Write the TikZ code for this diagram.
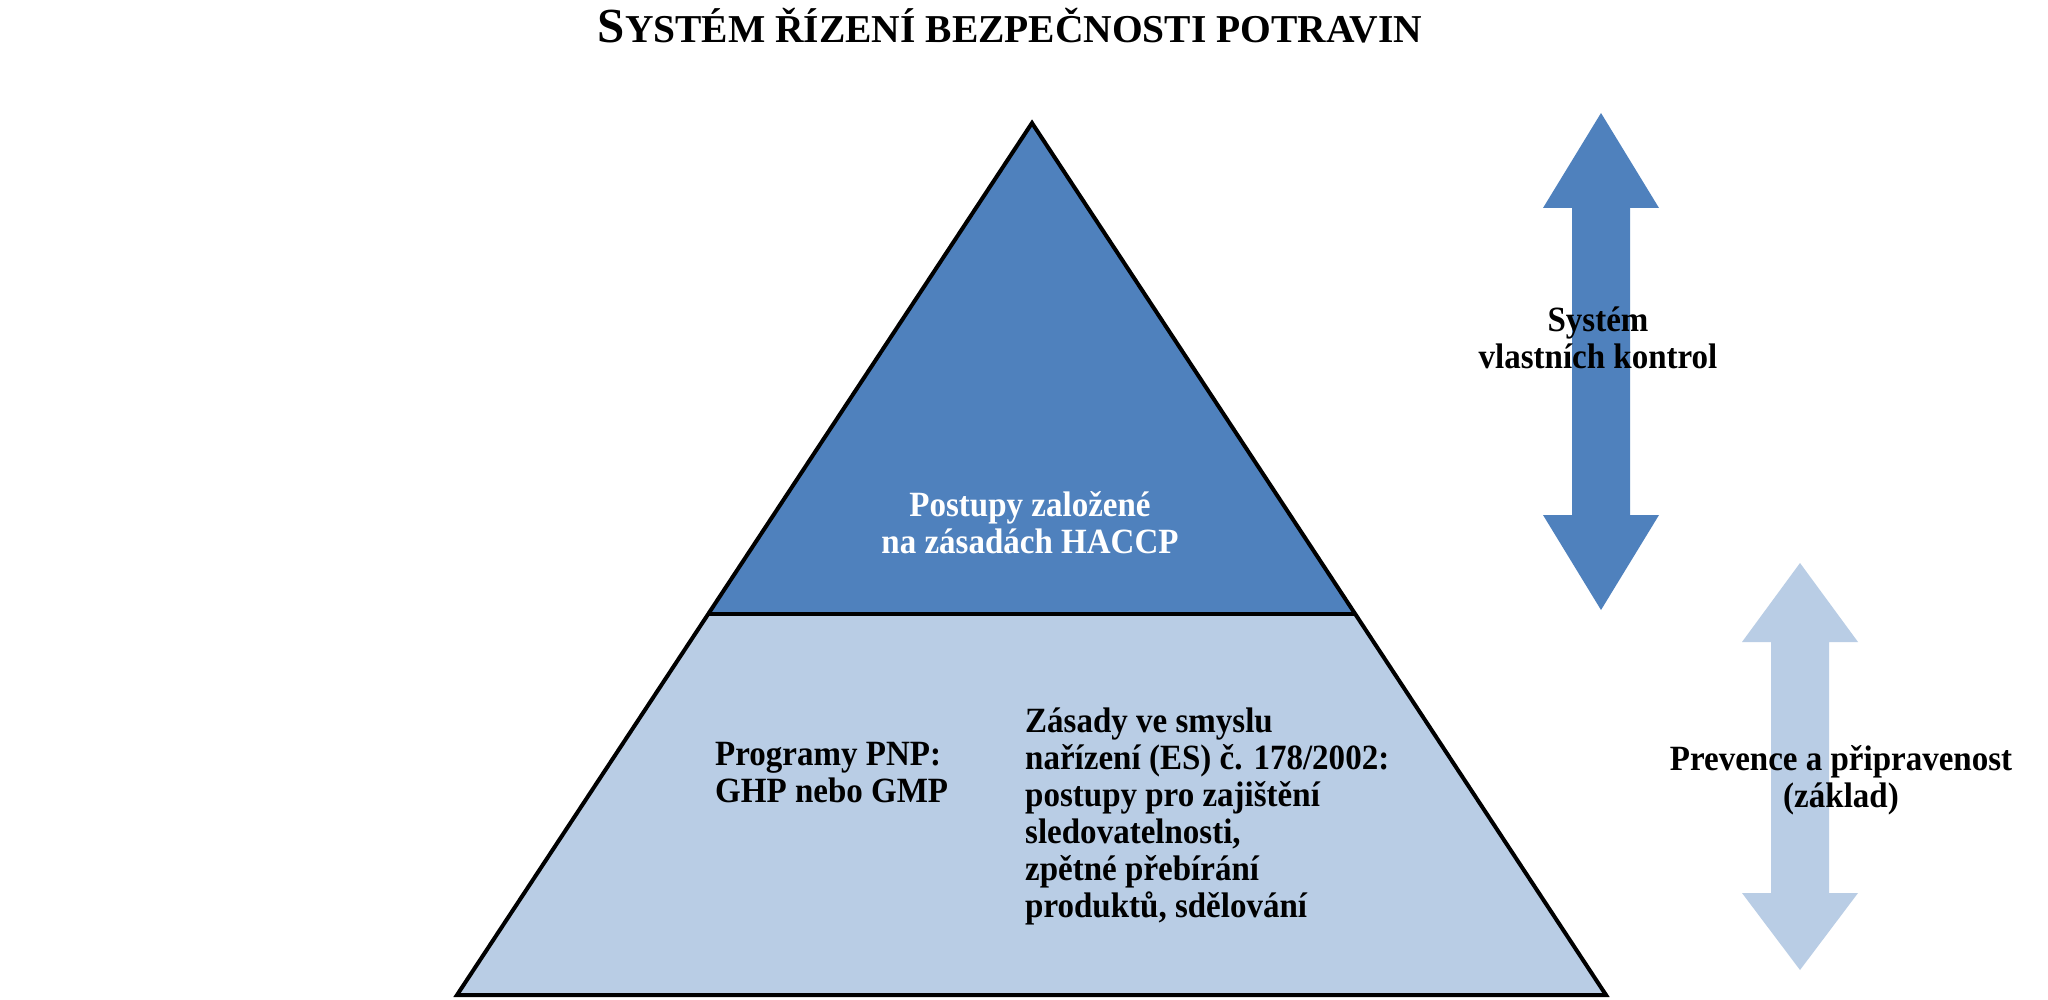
\documentclass[tikz,border=0pt]{standalone}
\usepackage{fontspec}
\setmainfont{Liberation Serif}
\newfontfamily\lblfont{Liberation Serif}[FakeStretch=0.93]
\definecolor{darkblue}{HTML}{4F81BD}
\definecolor{lightblue}{HTML}{B9CDE5}
\begin{document}
\begin{tikzpicture}[x=1pt,y=-1pt,
  lbl/.style={font=\lblfont\bfseries\fontsize{35.5}{37}\selectfont, inner sep=0pt},
  outline/.style={line width=4pt, draw=black, line join=miter}]
\useasboundingbox (0,0) rectangle (2048,1000);
\fill[white] (0,0) rectangle (2048,1000);
% pyramid
\coordinate (apex) at (1032,123);
\coordinate (bl) at (457,995);
\coordinate (br) at (1606,995);
\coordinate (dl) at (708,614);
\coordinate (dr) at (1355,614);
\fill[lightblue] (bl) -- (br) -- (dr) -- (dl) -- cycle;
\fill[darkblue] (apex) -- (dr) -- (dl) -- cycle;
\draw[outline] (apex) -- (br) -- (bl) -- cycle;
\draw[outline] (dl) -- (dr);
% double arrows
\fill[darkblue] (1601,113) -- (1659,208) -- (1630,208) -- (1630,515) -- (1659,515) -- (1601,610)
  -- (1543,515) -- (1572,515) -- (1572,208) -- (1543,208) -- cycle;
\fill[lightblue] (1800,563) -- (1858,642) -- (1829,642) -- (1829,893) -- (1858,893) -- (1800,970)
  -- (1742,893) -- (1771,893) -- (1771,642) -- (1742,642) -- cycle;
% title
\node[inner sep=0pt, anchor=base, font=\bfseries] (title) at (1010,43)
  {\fontsize{49}{49}\selectfont S\fontsize{39.5}{39.5}\selectfont YSTÉM ŘÍZENÍ BEZPEČNOSTI POTRAVIN};
% labels (anchor = baseline of last line)
\node[lbl, anchor=base, align=center, text=white] (haccp) at (1030,553)
  {Postupy založené\\na zásadách HACCP};
\node[lbl, anchor=base west, align=left] (pnp) at (715,802)
  {Programy PNP:\\GHP nebo GMP};
\node[lbl, anchor=base west, align=left] (es) at (1025,917)
  {Zásady ve smyslu\\nařízení (ES) č. 178/2002:\\postupy pro zajištění\\sledovatelnosti,\\zpětné přebírání\\produktů, sdělování};
\node[lbl, anchor=base, align=center] (svk) at (1598,368)
  {Systém\\vlastních kontrol};
\node[lbl, anchor=base, align=center] (prev) at (1841,807)
  {Prevence a připravenost\\(základ)};
\end{tikzpicture}
\end{document}
